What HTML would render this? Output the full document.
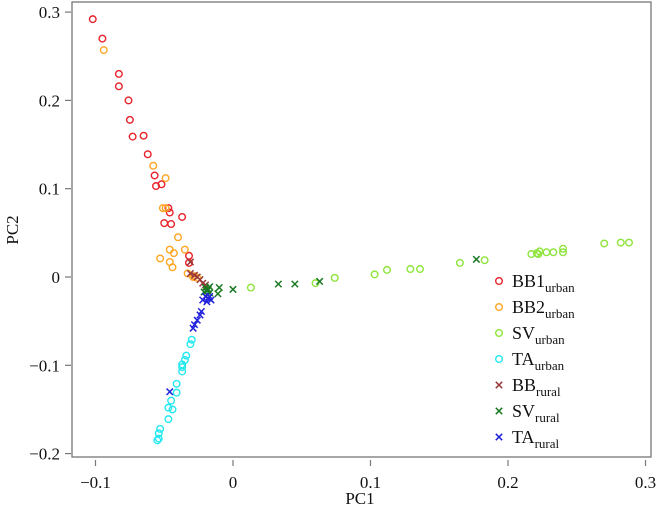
<!DOCTYPE html>
<html><head><meta charset="utf-8"><style>
html,body{margin:0;padding:0;background:#fff;}
svg{display:block;font-family:"Liberation Serif",serif;}
</style></head><body>
<svg id="chart" width="658" height="510" viewBox="0 0 658 510" xmlns="http://www.w3.org/2000/svg">
<g id="axes"></g><g id="marks"></g><g id="legend"></g>
</svg>
<script>
const xTicks=[-0.1,0,0.1,0.2,0.3];
const xTickLabels=["\u22120.1","0","0.1","0.2","0.3"];
const yTicks=[-0.2,-0.1,0,0.1,0.2,0.3];
const yTickLabels=["\u22120.2","\u22120.1","0","0.1","0.2","0.3"];
const seriesNames=["BB1","BB2","SV","TA","BB","SV","TA"];
const seriesSubs=["urban","urban","urban","urban","rural","rural","rural"];
const seriesColors=["#e8212a","#ffa623","#8ee43b","#22e8f0","#9c3a3a","#1b7a24","#2222dd"];
const seriesMarkers=["o","o","o","o","x","x","x"];
const bb1X=[-0.102,-0.095,-0.083,-0.083,-0.076,-0.075,-0.073,-0.065,-0.062,-0.057,-0.056,-0.052,-0.047,-0.046,-0.050,-0.045,-0.037,-0.032,-0.032];
const bb1Y=[0.292,0.270,0.230,0.216,0.200,0.178,0.159,0.160,0.139,0.115,0.103,0.105,0.078,0.073,0.061,0.060,0.068,0.024,0.016];
const bb2X=[-0.094,-0.058,-0.049,-0.051,-0.049,-0.040,-0.046,-0.043,-0.035,-0.053,-0.046,-0.044,-0.033,-0.028,-0.026,-0.029];
const bb2Y=[0.257,0.126,0.112,0.078,0.078,0.045,0.031,0.027,0.031,0.021,0.017,0.011,0.004,0.001,-0.001,0.000];
const svUX=[0.013,0.060,0.074,0.103,0.112,0.129,0.136,0.165,0.183,0.217,0.221,0.222,0.223,0.228,0.233,0.240,0.240,0.270,0.282,0.288];
const svUY=[-0.012,-0.007,-0.001,0.003,0.008,0.009,0.009,0.016,0.019,0.026,0.027,0.026,0.029,0.028,0.028,0.032,0.028,0.038,0.039,0.039];
const taUX=[-0.030,-0.031,-0.034,-0.035,-0.037,-0.037,-0.037,-0.041,-0.041,-0.045,-0.047,-0.044,-0.047,-0.053,-0.054,-0.054,-0.055];
const taUY=[-0.071,-0.076,-0.089,-0.094,-0.099,-0.102,-0.107,-0.121,-0.131,-0.140,-0.148,-0.150,-0.161,-0.172,-0.177,-0.183,-0.185];
const bbRX=[-0.031,-0.031,-0.028,-0.024,-0.022,-0.020,-0.026];
const bbRY=[0.017,0.004,0.002,-0.003,-0.007,-0.009,0.000];
const svRX=[-0.010,0.000,0.033,0.045,0.063,-0.011,-0.019,-0.021,-0.017,-0.020,-0.017,0.177,-0.018,-0.019];
const svRY=[-0.012,-0.014,-0.008,-0.008,-0.005,-0.019,-0.015,-0.017,-0.018,-0.012,-0.011,0.020,-0.014,-0.016];
const taRX=[-0.046,-0.023,-0.024,-0.026,-0.028,-0.029,-0.020,-0.018,-0.016,-0.019,-0.022,-0.017];
const taRY=[-0.130,-0.039,-0.043,-0.049,-0.054,-0.058,-0.022,-0.024,-0.026,-0.028,-0.026,-0.022];
const seriesX=[bb1X,bb2X,svUX,taUX,bbRX,svRX,taRX];
const seriesY=[bb1Y,bb2Y,svUY,taUY,bbRY,svRY,taRY];

const NS="http://www.w3.org/2000/svg";
const L=72,R=651,T=2,B=457;
const sx=v=>233+v*1375;
const sy=v=>277-v*883;
function mk(tag,attrs,parent){const e=document.createElementNS(NS,tag);for(const k in attrs)e.setAttribute(k,attrs[k]);parent.appendChild(e);return e;}
const axes=document.getElementById('axes'),marks=document.getElementById('marks'),legend=document.getElementById('legend');
const frame=mk('rect',{x:L,y:T,width:R-L,height:B-T,fill:'none',stroke:'#777','stroke-width':1.3},axes);


xTicks.forEach((v,i)=>{
 const t=mk('line',{x1:sx(v),x2:sx(v),y1:B+3,y2:B+9,stroke:'#777','stroke-width':1.2},axes);
 
 
 const tx=mk('text',{x:sx(v),y:B+31,'text-anchor':'middle','font-size':17,fill:'#111'},axes);
 tx.textContent=xTickLabels[i];
 
 
});
yTicks.forEach((v,i)=>{
 const t=mk('line',{x1:L-7,x2:L-1,y1:sy(v),y2:sy(v),stroke:'#777','stroke-width':1.2},axes);
 
 
 const tx=mk('text',{x:L-12,y:sy(v)+6,'text-anchor':'end','font-size':17,fill:'#111'},axes);
 tx.textContent=yTickLabels[i];
 
 
});
const xt=mk('text',{x:360,y:504,'text-anchor':'middle','font-size':17,fill:'#111'},axes);
xt.textContent='PC1';


const yt=mk('text',{x:0,y:0,'text-anchor':'middle','font-size':17,fill:'#111',transform:'translate(18,230) rotate(-90)'},axes);
yt.textContent='PC2';


function marker(type,x,y,color,parent){
 if(type==='o'){return mk('circle',{cx:x,cy:y,r:3.3,fill:'none',stroke:color,'stroke-width':1.4},parent);}
 const g=mk('path',{d:`M${x-3.2},${y-3.2}L${x+3.2},${y+3.2}M${x-3.2},${y+3.2}L${x+3.2},${y-3.2}`,stroke:color,'stroke-width':1.5,fill:'none'},parent);
 return g;
}
seriesX.forEach((xs,s)=>{
 xs.forEach((xv,i)=>{
  const m=marker(seriesMarkers[s],sx(xv),sy(seriesY[s][i]),seriesColors[s],marks);
  
  
 });
});
seriesNames.forEach((n,i)=>{
 const y=281+i*26;
 const m=marker(seriesMarkers[i],499,y,seriesColors[i],legend);
 
 
 const t=mk('text',{x:512,y:y+6,'font-size':18,fill:'#111'},legend);
 
 
 t.appendChild(document.createTextNode(n));
 const sub=mk('tspan',{'font-size':13,dy:5},t);
 sub.textContent=seriesSubs[i];
});
</script>
</body></html>
